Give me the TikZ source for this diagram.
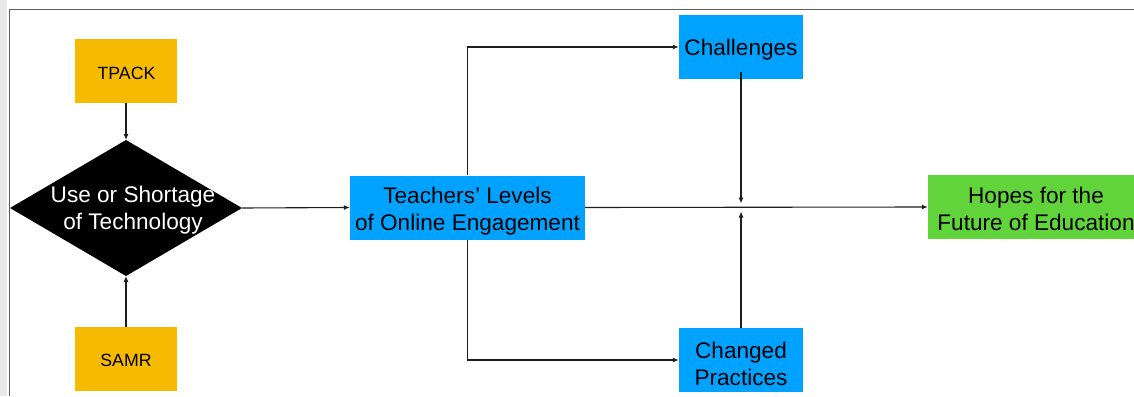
\documentclass[tikz,border=0pt]{standalone}
\usepackage{fontspec}
\setmainfont{Liberation Sans}
\usetikzlibrary{shapes.geometric,arrows.meta}
\definecolor{boxyellow}{RGB}{246,186,0}
\definecolor{boxblue}{RGB}{0,162,255}
\definecolor{boxgreen}{RGB}{96,212,58}
\definecolor{framegray}{RGB}{95,95,95}
\definecolor{stripgray}{RGB}{232,232,232}
\definecolor{linedark}{RGB}{30,30,30}
\tikzset{
  bigtext/.style={font=\fontsize{22.6}{27.2}\selectfont, inner sep=0pt, align=center, text=black},
  smalltext/.style={font=\fontsize{17.7}{21}\selectfont, inner sep=0pt, text=black},
  ybox/.style={rectangle, fill=boxyellow, minimum width=102pt, minimum height=64pt, inner sep=0pt},
  bbox/.style={rectangle, fill=boxblue, minimum height=64pt, inner sep=0pt},
  gbox/.style={rectangle, fill=boxgreen, minimum height=64pt, inner sep=0pt},
  conn/.style={draw=linedark, line width=1.1pt},
  arr/.style={conn, -{Latex[length=6pt,width=5pt]}}
}
\begin{document}
\begin{tikzpicture}[x=1pt,y=-1pt]
\useasboundingbox (0,0) rectangle (1134,396);
\clip (0,0) rectangle (1134,396);
% frame
\fill[stripgray] (0,0) rectangle (6.5,396);
\draw[framegray, line width=1.2pt] (9.5,396) -- (9.5,9.5) -- (1134,9.5);
% boxes
\node[ybox] (tpack) at (126,71) {};
\node[ybox] (samr) at (126,359) {};
\node[diamond, fill=black, minimum width=232pt, minimum height=136pt, inner sep=0pt, outer sep=0pt] (tech) at (126,208) {};
\node[bbox, minimum width=235pt] (teach) at (467.5,207.5) {};
\node[bbox, minimum width=124pt] (chal) at (741,47) {};
\node[bbox, minimum width=124pt] (chg) at (741,360) {};
\node[gbox, minimum width=216pt] (hopes) at (1036,207) {};
% labels
\node[smalltext] (tpacklabel) at (126.5,73.5) {TPACK};
\node[smalltext] (samrlabel) at (126,360) {SAMR};
\node[bigtext, text=white] (techlabel) at (133,210.5) {Use or Shortage\\of Technology};
\node[bigtext] (teachlabel) at (467.5,211.5) {Teachers’ Levels\\of Online Engagement};
\node[bigtext] (challabel) at (741,49.6) {Challenges};
\node[bigtext] (chglabel) at (741,364) {Changed\\Practices};
\node[bigtext] (hopeslabel) at (1036,208.7) {Hopes for the\\Future of Education};
\coordinate (meettop) at (741,203.5);
\coordinate (meetbot) at (741,211.5);
% connectors
\draw[arr] (tpack.south) -- (tech.north);
\draw[arr] (samr.north) -- (tech.south);
\draw[arr] (tech.east) -- (teach.west);
\draw[arr] (teach.north) |- (chal.west);
\draw[arr] (teach.south) |- (chg.west);
\draw[arr] (teach.east) -- (hopes.west);
\draw[arr] (chal.south) ++(0,-7) -- (meettop);
\draw[arr] (chg.north) -- (meetbot);
\end{tikzpicture}
\end{document}
